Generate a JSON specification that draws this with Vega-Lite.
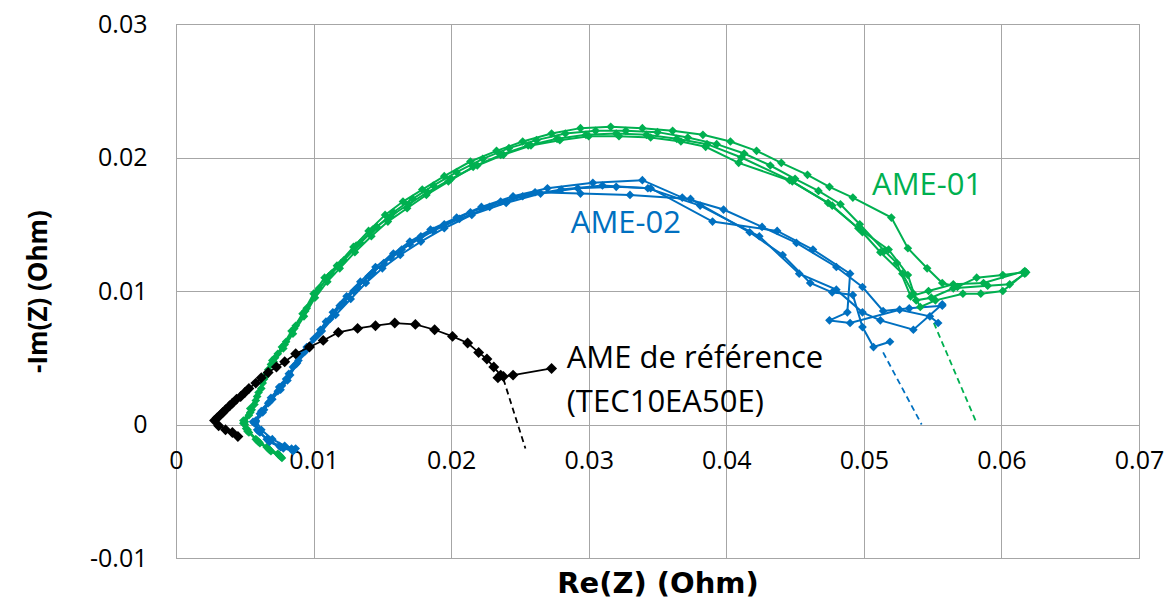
{
"$schema": "https://vega.github.io/schema/vega-lite/v6.json",
"width": 963, "height": 534,
"autosize": {"type": "none"},
"padding": {"left": 176, "top": 24, "right": 34, "bottom": 46},
"background": "white",
"config": {"view": {"stroke": "#8c8c8c", "strokeWidth": 1}, "font": "Open Sans"},
"datasets": {
"runs": [
{"r":"g1","c":"g","i":0,"x":0.0076,"y":-0.0024},{"r":"g1","c":"g","i":1,"x":0.0068,"y":-0.0019},{"r":"g1","c":"g","i":2,"x":0.0060,"y":-0.0013},{"r":"g1","c":"g","i":3,"x":0.0052,"y":-0.0004},{"r":"g1","c":"g","i":4,"x":0.0049,"y":0.0001},{"r":"g1","c":"g","i":5,"x":0.0054,"y":0.0009},{"r":"g1","c":"g","i":6,"x":0.0058,"y":0.0018},{"r":"g1","c":"g","i":7,"x":0.0063,"y":0.0031},{"r":"g1","c":"g","i":8,"x":0.0067,"y":0.0041},{"r":"g1","c":"g","i":9,"x":0.0070,"y":0.0048},{"r":"g1","c":"g","i":10,"x":0.0077,"y":0.0058},{"r":"g1","c":"g","i":11,"x":0.0084,"y":0.0070},{"r":"g1","c":"g","i":12,"x":0.0092,"y":0.0083},{"r":"g1","c":"g","i":13,"x":0.0100,"y":0.0098},{"r":"g1","c":"g","i":14,"x":0.0108,"y":0.0110},{"r":"g1","c":"g","i":15,"x":0.0117,"y":0.0119},{"r":"g1","c":"g","i":16,"x":0.0129,"y":0.0133},{"r":"g1","c":"g","i":17,"x":0.0140,"y":0.0145},{"r":"g1","c":"g","i":18,"x":0.0152,"y":0.0157},{"r":"g1","c":"g","i":19,"x":0.0165,"y":0.0167},{"r":"g1","c":"g","i":20,"x":0.0179,"y":0.0176},{"r":"g1","c":"g","i":21,"x":0.0195,"y":0.0186},{"r":"g1","c":"g","i":22,"x":0.0214,"y":0.0197},{"r":"g1","c":"g","i":23,"x":0.0233,"y":0.0205},{"r":"g1","c":"g","i":24,"x":0.0252,"y":0.0212},{"r":"g1","c":"g","i":25,"x":0.0273,"y":0.0218},{"r":"g1","c":"g","i":26,"x":0.0294,"y":0.0222},{"r":"g1","c":"g","i":27,"x":0.0316,"y":0.0223},{"r":"g1","c":"g","i":28,"x":0.0339,"y":0.0222},{"r":"g1","c":"g","i":29,"x":0.0361,"y":0.0220},{"r":"g1","c":"g","i":30,"x":0.0383,"y":0.0217},{"r":"g1","c":"g","i":31,"x":0.0403,"y":0.0212},{"r":"g1","c":"g","i":32,"x":0.0422,"y":0.0205},{"r":"g1","c":"g","i":33,"x":0.0440,"y":0.0196},{"r":"g1","c":"g","i":34,"x":0.0459,"y":0.0187},{"r":"g1","c":"g","i":35,"x":0.0475,"y":0.0178},{"r":"g1","c":"g","i":36,"x":0.0492,"y":0.0170},{"r":"g1","c":"g","i":37,"x":0.0520,"y":0.0155},{"r":"g1","c":"g","i":38,"x":0.0532,"y":0.0132},{"r":"g1","c":"g","i":39,"x":0.0546,"y":0.0117},{"r":"g1","c":"g","i":40,"x":0.0557,"y":0.0106},{"r":"g1","c":"g","i":41,"x":0.0568,"y":0.0103},{"r":"g1","c":"g","i":42,"x":0.0582,"y":0.0110},{"r":"g1","c":"g","i":43,"x":0.0601,"y":0.0112},{"r":"g1","c":"g","i":44,"x":0.0616,"y":0.0114},
{"r":"g2","c":"g","i":0,"x":0.0075,"y":-0.0023},{"r":"g2","c":"g","i":1,"x":0.0067,"y":-0.0018},{"r":"g2","c":"g","i":2,"x":0.0059,"y":-0.0012},{"r":"g2","c":"g","i":3,"x":0.0052,"y":-0.0005},{"r":"g2","c":"g","i":4,"x":0.0050,"y":0.0002},{"r":"g2","c":"g","i":5,"x":0.0055,"y":0.0011},{"r":"g2","c":"g","i":6,"x":0.0059,"y":0.0021},{"r":"g2","c":"g","i":7,"x":0.0064,"y":0.0034},{"r":"g2","c":"g","i":8,"x":0.0069,"y":0.0045},{"r":"g2","c":"g","i":9,"x":0.0074,"y":0.0053},{"r":"g2","c":"g","i":10,"x":0.0080,"y":0.0062},{"r":"g2","c":"g","i":11,"x":0.0087,"y":0.0074},{"r":"g2","c":"g","i":12,"x":0.0095,"y":0.0087},{"r":"g2","c":"g","i":13,"x":0.0104,"y":0.0102},{"r":"g2","c":"g","i":14,"x":0.0113,"y":0.0113},{"r":"g2","c":"g","i":15,"x":0.0122,"y":0.0123},{"r":"g2","c":"g","i":16,"x":0.0134,"y":0.0136},{"r":"g2","c":"g","i":17,"x":0.0146,"y":0.0148},{"r":"g2","c":"g","i":18,"x":0.0158,"y":0.0159},{"r":"g2","c":"g","i":19,"x":0.0172,"y":0.0169},{"r":"g2","c":"g","i":20,"x":0.0187,"y":0.0179},{"r":"g2","c":"g","i":21,"x":0.0204,"y":0.0189},{"r":"g2","c":"g","i":22,"x":0.0223,"y":0.0199},{"r":"g2","c":"g","i":23,"x":0.0242,"y":0.0207},{"r":"g2","c":"g","i":24,"x":0.0262,"y":0.0213},{"r":"g2","c":"g","i":25,"x":0.0283,"y":0.0218},{"r":"g2","c":"g","i":26,"x":0.0305,"y":0.0220},{"r":"g2","c":"g","i":27,"x":0.0327,"y":0.0220},{"r":"g2","c":"g","i":28,"x":0.0350,"y":0.0219},{"r":"g2","c":"g","i":29,"x":0.0372,"y":0.0215},{"r":"g2","c":"g","i":30,"x":0.0393,"y":0.0210},{"r":"g2","c":"g","i":31,"x":0.0413,"y":0.0203},{"r":"g2","c":"g","i":32,"x":0.0432,"y":0.0194},{"r":"g2","c":"g","i":33,"x":0.0450,"y":0.0184},{"r":"g2","c":"g","i":34,"x":0.0467,"y":0.0175},{"r":"g2","c":"g","i":35,"x":0.0483,"y":0.0165},{"r":"g2","c":"g","i":36,"x":0.0497,"y":0.0150},{"r":"g2","c":"g","i":37,"x":0.0515,"y":0.0130},{"r":"g2","c":"g","i":38,"x":0.0524,"y":0.0121},{"r":"g2","c":"g","i":39,"x":0.0534,"y":0.0096},{"r":"g2","c":"g","i":40,"x":0.0547,"y":0.0100},{"r":"g2","c":"g","i":41,"x":0.0565,"y":0.0105},{"r":"g2","c":"g","i":42,"x":0.0587,"y":0.0106},{"r":"g2","c":"g","i":43,"x":0.0617,"y":0.0115},
{"r":"g3","c":"g","i":0,"x":0.0077,"y":-0.0025},{"r":"g3","c":"g","i":1,"x":0.0069,"y":-0.0020},{"r":"g3","c":"g","i":2,"x":0.0061,"y":-0.0014},{"r":"g3","c":"g","i":3,"x":0.0053,"y":-0.0006},{"r":"g3","c":"g","i":4,"x":0.0050,"y":0.0000},{"r":"g3","c":"g","i":5,"x":0.0053,"y":0.0007},{"r":"g3","c":"g","i":6,"x":0.0057,"y":0.0015},{"r":"g3","c":"g","i":7,"x":0.0062,"y":0.0027},{"r":"g3","c":"g","i":8,"x":0.0066,"y":0.0038},{"r":"g3","c":"g","i":9,"x":0.0072,"y":0.0050},{"r":"g3","c":"g","i":10,"x":0.0079,"y":0.0060},{"r":"g3","c":"g","i":11,"x":0.0086,"y":0.0072},{"r":"g3","c":"g","i":12,"x":0.0094,"y":0.0085},{"r":"g3","c":"g","i":13,"x":0.0102,"y":0.0099},{"r":"g3","c":"g","i":14,"x":0.0111,"y":0.0111},{"r":"g3","c":"g","i":15,"x":0.0120,"y":0.0121},{"r":"g3","c":"g","i":16,"x":0.0131,"y":0.0134},{"r":"g3","c":"g","i":17,"x":0.0143,"y":0.0146},{"r":"g3","c":"g","i":18,"x":0.0156,"y":0.0156},{"r":"g3","c":"g","i":19,"x":0.0169,"y":0.0165},{"r":"g3","c":"g","i":20,"x":0.0183,"y":0.0174},{"r":"g3","c":"g","i":21,"x":0.0200,"y":0.0184},{"r":"g3","c":"g","i":22,"x":0.0219,"y":0.0194},{"r":"g3","c":"g","i":23,"x":0.0238,"y":0.0202},{"r":"g3","c":"g","i":24,"x":0.0258,"y":0.0209},{"r":"g3","c":"g","i":25,"x":0.0279,"y":0.0213},{"r":"g3","c":"g","i":26,"x":0.0300,"y":0.0216},{"r":"g3","c":"g","i":27,"x":0.0322,"y":0.0216},{"r":"g3","c":"g","i":28,"x":0.0345,"y":0.0215},{"r":"g3","c":"g","i":29,"x":0.0367,"y":0.0212},{"r":"g3","c":"g","i":30,"x":0.0385,"y":0.0208},{"r":"g3","c":"g","i":31,"x":0.0409,"y":0.0196},{"r":"g3","c":"g","i":32,"x":0.0448,"y":0.0182},{"r":"g3","c":"g","i":33,"x":0.0477,"y":0.0164},{"r":"g3","c":"g","i":34,"x":0.0499,"y":0.0144},{"r":"g3","c":"g","i":35,"x":0.0512,"y":0.0129},{"r":"g3","c":"g","i":36,"x":0.0528,"y":0.0113},{"r":"g3","c":"g","i":37,"x":0.0536,"y":0.0098},{"r":"g3","c":"g","i":38,"x":0.0541,"y":0.0088},{"r":"g3","c":"g","i":39,"x":0.0552,"y":0.0093},{"r":"g3","c":"g","i":40,"x":0.0572,"y":0.0098},{"r":"g3","c":"g","i":41,"x":0.0585,"y":0.0098},{"r":"g3","c":"g","i":42,"x":0.0601,"y":0.0100},{"r":"g3","c":"g","i":43,"x":0.0618,"y":0.0114},
{"r":"g4","c":"g","i":0,"x":0.0074,"y":-0.0022},{"r":"g4","c":"g","i":1,"x":0.0066,"y":-0.0017},{"r":"g4","c":"g","i":2,"x":0.0058,"y":-0.0011},{"r":"g4","c":"g","i":3,"x":0.0051,"y":-0.0003},{"r":"g4","c":"g","i":4,"x":0.0049,"y":0.0003},{"r":"g4","c":"g","i":5,"x":0.0054,"y":0.0012},{"r":"g4","c":"g","i":6,"x":0.0060,"y":0.0024},{"r":"g4","c":"g","i":7,"x":0.0065,"y":0.0036},{"r":"g4","c":"g","i":8,"x":0.0071,"y":0.0047},{"r":"g4","c":"g","i":9,"x":0.0078,"y":0.0057},{"r":"g4","c":"g","i":10,"x":0.0085,"y":0.0068},{"r":"g4","c":"g","i":11,"x":0.0093,"y":0.0081},{"r":"g4","c":"g","i":12,"x":0.0101,"y":0.0095},{"r":"g4","c":"g","i":13,"x":0.0110,"y":0.0107},{"r":"g4","c":"g","i":14,"x":0.0119,"y":0.0117},{"r":"g4","c":"g","i":15,"x":0.0130,"y":0.0129},{"r":"g4","c":"g","i":16,"x":0.0142,"y":0.0141},{"r":"g4","c":"g","i":17,"x":0.0154,"y":0.0152},{"r":"g4","c":"g","i":18,"x":0.0168,"y":0.0162},{"r":"g4","c":"g","i":19,"x":0.0182,"y":0.0172},{"r":"g4","c":"g","i":20,"x":0.0198,"y":0.0182},{"r":"g4","c":"g","i":21,"x":0.0216,"y":0.0193},{"r":"g4","c":"g","i":22,"x":0.0236,"y":0.0202},{"r":"g4","c":"g","i":23,"x":0.0256,"y":0.0209},{"r":"g4","c":"g","i":24,"x":0.0277,"y":0.0214},{"r":"g4","c":"g","i":25,"x":0.0298,"y":0.0217},{"r":"g4","c":"g","i":26,"x":0.0320,"y":0.0218},{"r":"g4","c":"g","i":27,"x":0.0342,"y":0.0217},{"r":"g4","c":"g","i":28,"x":0.0364,"y":0.0214},{"r":"g4","c":"g","i":29,"x":0.0386,"y":0.0210},{"r":"g4","c":"g","i":30,"x":0.0411,"y":0.0200},{"r":"g4","c":"g","i":31,"x":0.0446,"y":0.0183},{"r":"g4","c":"g","i":32,"x":0.0474,"y":0.0166},{"r":"g4","c":"g","i":33,"x":0.0496,"y":0.0147},{"r":"g4","c":"g","i":34,"x":0.0518,"y":0.0131},{"r":"g4","c":"g","i":35,"x":0.0532,"y":0.0112},{"r":"g4","c":"g","i":36,"x":0.0538,"y":0.0093},{"r":"g4","c":"g","i":37,"x":0.0549,"y":0.0095},{"r":"g4","c":"g","i":38,"x":0.0565,"y":0.0102},{"r":"g4","c":"g","i":39,"x":0.0590,"y":0.0104},{"r":"g4","c":"g","i":40,"x":0.0606,"y":0.0105},{"r":"g4","c":"g","i":41,"x":0.0617,"y":0.0113},
{"r":"b1","c":"b","i":0,"x":0.0086,"y":-0.0019},{"r":"b1","c":"b","i":1,"x":0.0078,"y":-0.0018},{"r":"b1","c":"b","i":2,"x":0.0068,"y":-0.0013},{"r":"b1","c":"b","i":3,"x":0.0061,"y":-0.0006},{"r":"b1","c":"b","i":4,"x":0.0057,"y":0.0001},{"r":"b1","c":"b","i":5,"x":0.0063,"y":0.0009},{"r":"b1","c":"b","i":6,"x":0.0068,"y":0.0017},{"r":"b1","c":"b","i":7,"x":0.0076,"y":0.0026},{"r":"b1","c":"b","i":8,"x":0.0081,"y":0.0033},{"r":"b1","c":"b","i":9,"x":0.0085,"y":0.0043},{"r":"b1","c":"b","i":10,"x":0.0090,"y":0.0051},{"r":"b1","c":"b","i":11,"x":0.0095,"y":0.0058},{"r":"b1","c":"b","i":12,"x":0.0105,"y":0.0071},{"r":"b1","c":"b","i":13,"x":0.0114,"y":0.0084},{"r":"b1","c":"b","i":14,"x":0.0124,"y":0.0096},{"r":"b1","c":"b","i":15,"x":0.0134,"y":0.0107},{"r":"b1","c":"b","i":16,"x":0.0145,"y":0.0118},{"r":"b1","c":"b","i":17,"x":0.0158,"y":0.0128},{"r":"b1","c":"b","i":18,"x":0.0170,"y":0.0137},{"r":"b1","c":"b","i":19,"x":0.0185,"y":0.0146},{"r":"b1","c":"b","i":20,"x":0.0204,"y":0.0155},{"r":"b1","c":"b","i":21,"x":0.0222,"y":0.0163},{"r":"b1","c":"b","i":22,"x":0.0245,"y":0.0171},{"r":"b1","c":"b","i":23,"x":0.0270,"y":0.0177},{"r":"b1","c":"b","i":24,"x":0.0303,"y":0.0181},{"r":"b1","c":"b","i":25,"x":0.0339,"y":0.0183},{"r":"b1","c":"b","i":26,"x":0.0368,"y":0.0170},{"r":"b1","c":"b","i":27,"x":0.0398,"y":0.0161},{"r":"b1","c":"b","i":28,"x":0.0426,"y":0.0148},{"r":"b1","c":"b","i":29,"x":0.0451,"y":0.0136},{"r":"b1","c":"b","i":30,"x":0.0480,"y":0.0118},{"r":"b1","c":"b","i":31,"x":0.0499,"y":0.0103},{"r":"b1","c":"b","i":32,"x":0.0514,"y":0.0085},{"r":"b1","c":"b","i":33,"x":0.0533,"y":0.0087},{"r":"b1","c":"b","i":34,"x":0.0557,"y":0.0089},
{"r":"b2","c":"b","i":0,"x":0.0085,"y":-0.0020},{"r":"b2","c":"b","i":1,"x":0.0076,"y":-0.0017},{"r":"b2","c":"b","i":2,"x":0.0067,"y":-0.0012},{"r":"b2","c":"b","i":3,"x":0.0060,"y":-0.0005},{"r":"b2","c":"b","i":4,"x":0.0058,"y":0.0002},{"r":"b2","c":"b","i":5,"x":0.0064,"y":0.0011},{"r":"b2","c":"b","i":6,"x":0.0070,"y":0.0019},{"r":"b2","c":"b","i":7,"x":0.0077,"y":0.0029},{"r":"b2","c":"b","i":8,"x":0.0083,"y":0.0037},{"r":"b2","c":"b","i":9,"x":0.0088,"y":0.0046},{"r":"b2","c":"b","i":10,"x":0.0093,"y":0.0054},{"r":"b2","c":"b","i":11,"x":0.0100,"y":0.0064},{"r":"b2","c":"b","i":12,"x":0.0109,"y":0.0077},{"r":"b2","c":"b","i":13,"x":0.0119,"y":0.0089},{"r":"b2","c":"b","i":14,"x":0.0129,"y":0.0100},{"r":"b2","c":"b","i":15,"x":0.0140,"y":0.0111},{"r":"b2","c":"b","i":16,"x":0.0151,"y":0.0121},{"r":"b2","c":"b","i":17,"x":0.0164,"y":0.0131},{"r":"b2","c":"b","i":18,"x":0.0178,"y":0.0141},{"r":"b2","c":"b","i":19,"x":0.0195,"y":0.0150},{"r":"b2","c":"b","i":20,"x":0.0214,"y":0.0159},{"r":"b2","c":"b","i":21,"x":0.0236,"y":0.0167},{"r":"b2","c":"b","i":22,"x":0.0261,"y":0.0174},{"r":"b2","c":"b","i":23,"x":0.0294,"y":0.0173},{"r":"b2","c":"b","i":24,"x":0.0330,"y":0.0172},{"r":"b2","c":"b","i":25,"x":0.0374,"y":0.0169},{"r":"b2","c":"b","i":26,"x":0.0417,"y":0.0144},{"r":"b2","c":"b","i":27,"x":0.0441,"y":0.0127},{"r":"b2","c":"b","i":28,"x":0.0461,"y":0.0106},{"r":"b2","c":"b","i":29,"x":0.0477,"y":0.0099},{"r":"b2","c":"b","i":30,"x":0.0492,"y":0.0097},{"r":"b2","c":"b","i":31,"x":0.0499,"y":0.0073},{"r":"b2","c":"b","i":32,"x":0.0507,"y":0.0058},{"r":"b2","c":"b","i":33,"x":0.0519,"y":0.0062},
{"r":"b3","c":"b","i":0,"x":0.0087,"y":-0.0018},{"r":"b3","c":"b","i":1,"x":0.0079,"y":-0.0016},{"r":"b3","c":"b","i":2,"x":0.0070,"y":-0.0011},{"r":"b3","c":"b","i":3,"x":0.0062,"y":-0.0004},{"r":"b3","c":"b","i":4,"x":0.0058,"y":0.0003},{"r":"b3","c":"b","i":5,"x":0.0062,"y":0.0010},{"r":"b3","c":"b","i":6,"x":0.0069,"y":0.0020},{"r":"b3","c":"b","i":7,"x":0.0075,"y":0.0028},{"r":"b3","c":"b","i":8,"x":0.0082,"y":0.0038},{"r":"b3","c":"b","i":9,"x":0.0089,"y":0.0048},{"r":"b3","c":"b","i":10,"x":0.0097,"y":0.0059},{"r":"b3","c":"b","i":11,"x":0.0106,"y":0.0070},{"r":"b3","c":"b","i":12,"x":0.0116,"y":0.0082},{"r":"b3","c":"b","i":13,"x":0.0127,"y":0.0094},{"r":"b3","c":"b","i":14,"x":0.0138,"y":0.0106},{"r":"b3","c":"b","i":15,"x":0.0150,"y":0.0117},{"r":"b3","c":"b","i":16,"x":0.0163,"y":0.0127},{"r":"b3","c":"b","i":17,"x":0.0178,"y":0.0137},{"r":"b3","c":"b","i":18,"x":0.0195,"y":0.0147},{"r":"b3","c":"b","i":19,"x":0.0215,"y":0.0157},{"r":"b3","c":"b","i":20,"x":0.0240,"y":0.0166},{"r":"b3","c":"b","i":21,"x":0.0265,"y":0.0173},{"r":"b3","c":"b","i":22,"x":0.0292,"y":0.0177},{"r":"b3","c":"b","i":23,"x":0.0320,"y":0.0178},{"r":"b3","c":"b","i":24,"x":0.0345,"y":0.0177},{"r":"b3","c":"b","i":25,"x":0.0390,"y":0.0152},{"r":"b3","c":"b","i":26,"x":0.0437,"y":0.0145},{"r":"b3","c":"b","i":27,"x":0.0463,"y":0.0131},{"r":"b3","c":"b","i":28,"x":0.0490,"y":0.0113},{"r":"b3","c":"b","i":29,"x":0.0488,"y":0.0084},{"r":"b3","c":"b","i":30,"x":0.0475,"y":0.0078},{"r":"b3","c":"b","i":31,"x":0.0490,"y":0.0076},{"r":"b3","c":"b","i":32,"x":0.0526,"y":0.0086},{"r":"b3","c":"b","i":33,"x":0.0548,"y":0.0081},{"r":"b3","c":"b","i":34,"x":0.0554,"y":0.0076},
{"r":"b4","c":"b","i":0,"x":0.0084,"y":-0.0018},{"r":"b4","c":"b","i":1,"x":0.0075,"y":-0.0016},{"r":"b4","c":"b","i":2,"x":0.0066,"y":-0.0011},{"r":"b4","c":"b","i":3,"x":0.0059,"y":-0.0004},{"r":"b4","c":"b","i":4,"x":0.0056,"y":0.0002},{"r":"b4","c":"b","i":5,"x":0.0061,"y":0.0008},{"r":"b4","c":"b","i":6,"x":0.0067,"y":0.0016},{"r":"b4","c":"b","i":7,"x":0.0074,"y":0.0025},{"r":"b4","c":"b","i":8,"x":0.0080,"y":0.0034},{"r":"b4","c":"b","i":9,"x":0.0087,"y":0.0045},{"r":"b4","c":"b","i":10,"x":0.0094,"y":0.0055},{"r":"b4","c":"b","i":11,"x":0.0103,"y":0.0067},{"r":"b4","c":"b","i":12,"x":0.0112,"y":0.0079},{"r":"b4","c":"b","i":13,"x":0.0122,"y":0.0092},{"r":"b4","c":"b","i":14,"x":0.0132,"y":0.0103},{"r":"b4","c":"b","i":15,"x":0.0143,"y":0.0114},{"r":"b4","c":"b","i":16,"x":0.0156,"y":0.0125},{"r":"b4","c":"b","i":17,"x":0.0170,"y":0.0135},{"r":"b4","c":"b","i":18,"x":0.0187,"y":0.0145},{"r":"b4","c":"b","i":19,"x":0.0206,"y":0.0154},{"r":"b4","c":"b","i":20,"x":0.0228,"y":0.0163},{"r":"b4","c":"b","i":21,"x":0.0252,"y":0.0171},{"r":"b4","c":"b","i":22,"x":0.0280,"y":0.0176},{"r":"b4","c":"b","i":23,"x":0.0310,"y":0.0179},{"r":"b4","c":"b","i":24,"x":0.0343,"y":0.0177},{"r":"b4","c":"b","i":25,"x":0.0381,"y":0.0164},{"r":"b4","c":"b","i":26,"x":0.0424,"y":0.0141},{"r":"b4","c":"b","i":27,"x":0.0453,"y":0.0113},{"r":"b4","c":"b","i":28,"x":0.0480,"y":0.0101},{"r":"b4","c":"b","i":29,"x":0.0499,"y":0.0084},{"r":"b4","c":"b","i":30,"x":0.0512,"y":0.0078},{"r":"b4","c":"b","i":31,"x":0.0536,"y":0.0071},{"r":"b4","c":"b","i":32,"x":0.0557,"y":0.0090}
],
"ref": [
{"r":"k","c":"k","i":0,"x":0.0045,"y":-0.0009},{"r":"k","c":"k","i":1,"x":0.0041,"y":-0.0006},{"r":"k","c":"k","i":2,"x":0.0036,"y":-0.0004},{"r":"k","c":"k","i":3,"x":0.0031,"y":-0.0001},{"r":"k","c":"k","i":4,"x":0.0028,"y":0.0003},{"r":"k","c":"k","i":5,"x":0.0030,"y":0.0005},{"r":"k","c":"k","i":6,"x":0.0032,"y":0.0007},{"r":"k","c":"k","i":7,"x":0.0034,"y":0.0009},{"r":"k","c":"k","i":8,"x":0.0036,"y":0.0011},{"r":"k","c":"k","i":9,"x":0.0039,"y":0.0014},{"r":"k","c":"k","i":10,"x":0.0041,"y":0.0016},{"r":"k","c":"k","i":11,"x":0.0044,"y":0.0019},{"r":"k","c":"k","i":12,"x":0.0047,"y":0.0021},{"r":"k","c":"k","i":13,"x":0.0050,"y":0.0024},{"r":"k","c":"k","i":14,"x":0.0053,"y":0.0027},{"r":"k","c":"k","i":15,"x":0.0058,"y":0.0031},{"r":"k","c":"k","i":16,"x":0.0062,"y":0.0035},{"r":"k","c":"k","i":17,"x":0.0067,"y":0.0039},{"r":"k","c":"k","i":18,"x":0.0073,"y":0.0043},{"r":"k","c":"k","i":19,"x":0.0079,"y":0.0047},{"r":"k","c":"k","i":20,"x":0.0087,"y":0.0053},{"r":"k","c":"k","i":21,"x":0.0097,"y":0.0058},{"r":"k","c":"k","i":22,"x":0.0107,"y":0.0063},{"r":"k","c":"k","i":23,"x":0.0118,"y":0.0069},{"r":"k","c":"k","i":24,"x":0.0132,"y":0.0072},{"r":"k","c":"k","i":25,"x":0.0145,"y":0.0074},{"r":"k","c":"k","i":26,"x":0.0159,"y":0.0076},{"r":"k","c":"k","i":27,"x":0.0174,"y":0.0075},{"r":"k","c":"k","i":28,"x":0.0188,"y":0.0071},{"r":"k","c":"k","i":29,"x":0.0201,"y":0.0066},{"r":"k","c":"k","i":30,"x":0.0212,"y":0.0061},{"r":"k","c":"k","i":31,"x":0.0220,"y":0.0054},{"r":"k","c":"k","i":32,"x":0.0226,"y":0.0049},{"r":"k","c":"k","i":33,"x":0.0231,"y":0.0043},{"r":"k","c":"k","i":34,"x":0.0236,"y":0.0037},{"r":"k","c":"k","i":35,"x":0.0234,"y":0.0035},{"r":"k","c":"k","i":36,"x":0.0238,"y":0.0036},{"r":"k","c":"k","i":37,"x":0.0245,"y":0.0037},{"r":"k","c":"k","i":38,"x":0.0273,"y":0.0042}
],
"dash": [
{"r":"dk","c":"k","i":0,"x":0.0238,"y":0.0034},{"r":"dk","c":"k","i":1,"x":0.0254,"y":-0.0018},
{"r":"db","c":"b","i":0,"x":0.0514,"y":0.0054},{"r":"db","c":"b","i":1,"x":0.0542,"y":0.0000},
{"r":"dg","c":"g","i":0,"x":0.0548,"y":0.0083},{"r":"dg","c":"g","i":1,"x":0.0582,"y":0.0001}
],
"labels": [
{"t":"AME-01","c":"g","x":0.0506,"y":0.0179},
{"t":"AME-02","c":"b","x":0.0287,"y":0.0150},
{"t":"AME de référence","c":"k","x":0.0284,"y":0.0049},
{"t":"(TEC10EA50E)","c":"k","x":0.0284,"y":0.0016}
]
},
"layer": [
{
"data": {"name": "dash"},
"mark": {"type": "line", "strokeDash": [6, 4], "strokeWidth": 1.8},
"encoding": {
"x": {"field": "x", "type": "quantitative", "scale": {"domain": [0, 0.07], "nice": false, "zero": false},
"axis": {"values": [0, 0.01, 0.02, 0.03, 0.04, 0.05, 0.06, 0.07], "labelExpr": "replace(format(datum.value, '.2~f'), '\u2212', '-')", "offset": -134, "domain": false, "ticks": false, "labelFlush": false, "labelOverlap": false, "labelPadding": 24, "labelFontSize": 25, "labelColor": "#000", "labelFont": "Open Sans", "grid": true, "gridColor": "#a6a6a6", "gridWidth": 1, "title": "Re(Z) (Ohm)", "titleFont": "DejaVu Sans", "titleFontSize": 29, "titleFontWeight": "bold", "titleColor": "#000", "titleY": 168, "titleBaseline": "alphabetic"}},
"y": {"field": "y", "type": "quantitative", "scale": {"domain": [-0.01, 0.03], "nice": false, "zero": false},
"axis": {"values": [-0.01, 0, 0.01, 0.02, 0.03], "labelExpr": "replace(format(datum.value, '.2~f'), '\u2212', '-')", "domain": false, "ticks": false, "labelFlush": false, "labelOverlap": false, "labelPadding": 29, "labelFontSize": 25, "labelColor": "#000", "labelFont": "Open Sans", "grid": true, "gridColor": "#a6a6a6", "gridWidth": 1, "title": "-Im(Z) (Ohm)", "titleFont": "Open Sans", "titleFontSize": 26, "titleFontWeight": "bold", "titleColor": "#000", "titlePadding": 38}},
"color": {"field": "c", "type": "nominal", "scale": {"domain": ["g", "b", "k"], "range": ["#00B050", "#0070C0", "#000000"]}, "legend": null},
"detail": {"field": "r"},
"order": {"field": "i"}
}
},
{
"data": {"name": "runs"},
"mark": {"type": "line", "strokeWidth": 2, "point": {"filled": true, "shape": "diamond", "size": 75}},
"encoding": {
"x": {"field": "x", "type": "quantitative"},
"y": {"field": "y", "type": "quantitative"},
"color": {"field": "c", "type": "nominal", "legend": null},
"detail": {"field": "r"},
"order": {"field": "i"}
}
},
{
"data": {"name": "ref"},
"mark": {"type": "line", "strokeWidth": 1.7, "point": {"filled": true, "shape": "diamond", "size": 120}},
"encoding": {
"x": {"field": "x", "type": "quantitative"},
"y": {"field": "y", "type": "quantitative"},
"color": {"field": "c", "type": "nominal", "legend": null},
"detail": {"field": "r"},
"order": {"field": "i"}
}
},
{
"data": {"name": "labels"},
"mark": {"type": "text", "align": "left", "baseline": "middle", "fontSize": 31, "font": "Open Sans"},
"encoding": {
"x": {"field": "x", "type": "quantitative"},
"y": {"field": "y", "type": "quantitative"},
"text": {"field": "t"},
"color": {"field": "c", "type": "nominal", "legend": null}
}
}
]
}
